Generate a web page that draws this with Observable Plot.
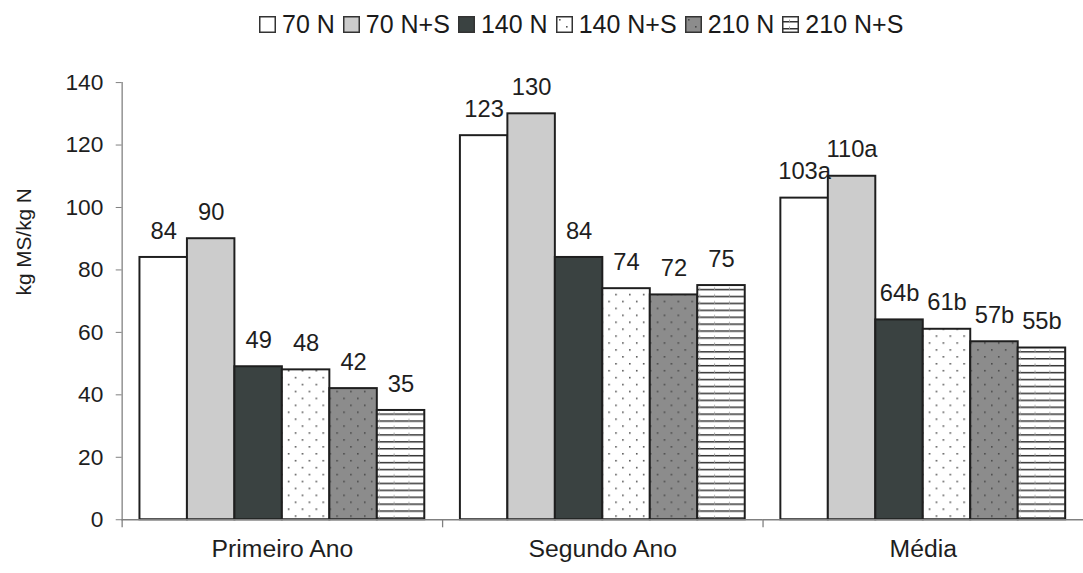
<!DOCTYPE html>
<html>
<head>
<meta charset="utf-8">
<script src="https://cdn.jsdelivr.net/npm/d3@7"></script>
<script src="https://cdn.jsdelivr.net/npm/@observablehq/plot@0.6"></script>
<style>
  html, body { margin: 0; padding: 0; background: #fff; overflow: hidden; }
  #wrap { position: relative; width: 1083px; height: 573px; overflow: hidden; font-family: "Liberation Sans", Arial, sans-serif; }
  #legend { position: absolute; left: 259px; top: 10px; display: flex; align-items: center; font-size: 25px; color: #1a1a1a; white-space: nowrap; }
  #legend .item { display: flex; align-items: center; margin-right: 8px; }
  #legend svg { margin-right: 6px; }
  #chart { position: absolute; left: 0; top: 0; }
</style>
</head>
<body>
<div id="wrap">
  <div id="chart"></div>
  <div id="legend"></div>
</div>
<script>
// ---- data ----
const groups = ["Primeiro Ano", "Segundo Ano", "Média"];
const series = ["70 N", "70 N+S", "140 N", "140 N+S", "210 N", "210 N+S"];
const primeiroAno = [84, 90, 49, 48, 42, 35];
const segundoAno = [123, 130, 84, 74, 72, 75];
const media = [103, 110, 64, 61, 57, 55];
const primeiroLabels = ["84", "90", "49", "48", "42", "35"];
const segundoLabels = ["123", "130", "84", "74", "72", "75"];
const mediaLabels = ["103a", "110a", "64b", "61b", "57b", "55b"];
const yTicks = [0, 20, 40, 60, 80, 100, 120, 140];
const yLabel = "kg MS/kg N";

const fills = ["#ffffff", "#cccccc", "#3a4241", "url(#pdots)", "url(#pgdots)", "url(#phlines)"];

const table = [];
[[primeiroAno, primeiroLabels], [segundoAno, segundoLabels], [media, mediaLabels]].forEach(([vals, labs], gi) => {
  series.forEach((s, si) => table.push({group: groups[gi], series: s, value: vals[si], label: labs[si]}));
});

const ink = "#1e1e1e";
const axisGrey = "#808080";

const chart = Plot.plot({
  width: 1095,
  height: 573,
  marginLeft: 122,
  marginRight: 0,
  marginTop: 83,
  marginBottom: 48,
  style: {fontFamily: "'Liberation Sans', Arial, sans-serif", fontSize: "23px", color: ink, background: "transparent"},
  fx: {domain: groups, padding: 0, label: null, axis: null},
  x: {domain: series, paddingInner: 0, paddingOuter: 0.375, axis: null},
  y: {domain: [0, 140], axis: null},
  color: {domain: series, range: fills},
  marks: [
    Plot.barY(table, {fx: "group", x: "series", y: "value", fill: "series", stroke: ink, strokeWidth: 2}),
    Plot.ruleY([0], {stroke: axisGrey, strokeWidth: 1.3}),
    Plot.frame({anchor: "left", facetAnchor: "left", stroke: axisGrey, strokeWidth: 1.3}),
    Plot.frame({anchor: "left", insetTop: 442, insetBottom: -7, stroke: axisGrey, strokeWidth: 1.3}),
    Plot.axisY({ticks: yTicks, tickSize: 6, tickPadding: 13, fontSize: 23, label: null, stroke: axisGrey, fill: ink}),
    Plot.text(table, {fx: "group", x: "series", y: "value", text: "label", dy: -19, lineAnchor: "bottom", fontSize: 24, fill: ink}),
    Plot.axisFx({anchor: "bottom", tickSize: 0, tickPadding: 20, fontSize: 25, label: null, fill: ink}),
    Plot.text([yLabel], {frameAnchor: "left", facetAnchor: "left", textAnchor: "middle", rotate: -90, dx: -99, dy: -60, fontSize: 21, fill: ink})
  ]
});

// patterns
const svg = d3.select(chart);
const defs = svg.insert("defs", ":first-child");
function addPatterns(defs) {
  const p1 = defs.append("pattern").attr("id", "pdots").attr("patternUnits", "userSpaceOnUse").attr("width", 14).attr("height", 14);
  p1.append("rect").attr("width", 14).attr("height", 14).attr("fill", "#ffffff");
  p1.append("rect").attr("x", 3).attr("y", 3).attr("width", 1.6).attr("height", 1.6).attr("fill", "#555");
  p1.append("rect").attr("x", 10).attr("y", 10).attr("width", 1.6).attr("height", 1.6).attr("fill", "#555");
  const p2 = defs.append("pattern").attr("id", "pgdots").attr("patternUnits", "userSpaceOnUse").attr("width", 14).attr("height", 14);
  p2.append("rect").attr("width", 14).attr("height", 14).attr("fill", "#8c8c8c");
  p2.append("rect").attr("x", 3).attr("y", 3).attr("width", 1.6).attr("height", 1.6).attr("fill", "#4a4a4a");
  p2.append("rect").attr("x", 10).attr("y", 10).attr("width", 1.6).attr("height", 1.6).attr("fill", "#4a4a4a");
  const p3 = defs.append("pattern").attr("id", "phlines").attr("patternUnits", "userSpaceOnUse").attr("width", 15).attr("height", 7);
  p3.append("rect").attr("width", 15).attr("height", 7).attr("fill", "#ffffff");
  p3.append("rect").attr("x", 0).attr("y", 5).attr("width", 15).attr("height", 1.5).attr("fill", "#333");
  p3.append("rect").attr("x", 7).attr("y", 3.5).attr("width", 0.9).attr("height", 4.5).attr("fill", "#999");
}
addPatterns(defs);
document.getElementById("chart").appendChild(chart);

// legend
const legend = d3.select("#legend");
series.forEach((s, i) => {
  const item = legend.append("div").attr("class", "item");
  const sw = item.append("svg").attr("width", 17).attr("height", 17);
  sw.append("rect").attr("x", 0.75).attr("y", 0.75).attr("width", 15.5).attr("height", 15.5)
    .attr("fill", fills[i]).attr("stroke", "#333").attr("stroke-width", 1.5);
  item.append("span").text(s);
});
</script>
</body>
</html>
